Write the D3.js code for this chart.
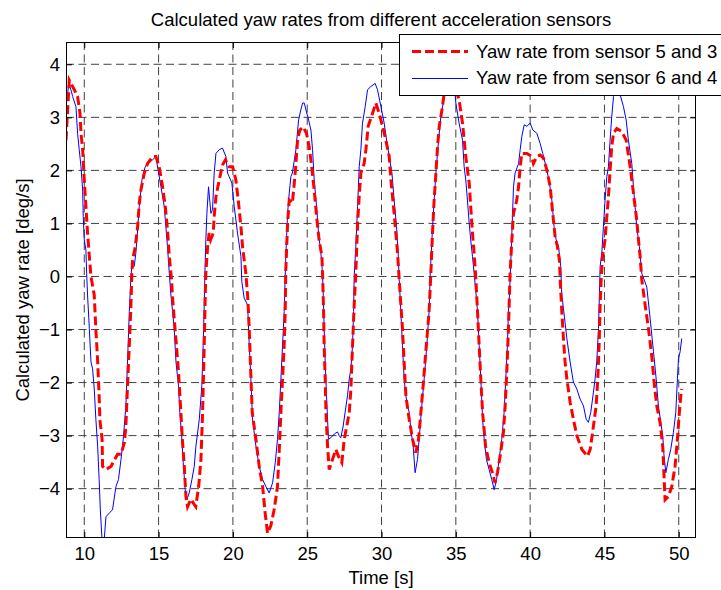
<!DOCTYPE html>
<meta charset="utf-8">
<style>
body {
    margin: 0px;
    background: #fff;
    overflow: hidden;
}
text {
    font-family: "Liberation Sans", Arial, sans-serif;
    fill: #000;
}
.grid line {
    stroke: #404040;
    stroke-width: 1px;
    stroke-dasharray: 8,4.5;
}
</style>
<body>
<script src="https://d3js.org/d3.v7.min.js"></script>
<script>
// tick labels
var xTicks = [10, 15, 20, 25, 30, 35, 40, 45, 50];
var yTicks = [-4, -3, -2, -1, 0, 1, 2, 3, 4];

// yaw rate from sensor 5 and 3 (red, dashed)
var redT = [8.77, 8.99, 9.33, 9.55, 9.71, 9.78, 9.89, 10.0, 10.11, 10.22, 10.34, 10.45, 10.67, 10.78, 10.9, 11.0, 11.05, 11.2, 11.23, 11.46,
    11.8, 12.24, 12.47, 12.7, 12.8, 12.9, 13.03, 13.14, 13.2, 13.25, 13.43, 13.59, 13.7, 13.81, 14.04, 14.26, 14.6, 14.82, 15.04, 15.27,
    15.45, 15.6, 15.72, 15.87, 15.94, 16.05, 16.2, 16.34, 16.5, 16.6, 16.73, 16.84, 16.95, 17.17, 17.5, 17.7, 17.85, 17.96, 18.07, 18.14,
    18.18, 18.3, 18.4, 18.5, 18.68, 18.74, 18.86, 19.08, 19.3, 19.5, 19.75, 19.98, 20.2, 20.36, 20.54, 20.65, 20.76, 20.87, 21.0, 21.1,
    21.2, 21.3, 21.55, 21.77, 22.0, 22.17, 22.33, 22.55, 22.78, 23.0, 23.11, 23.23, 23.34, 23.45, 23.52, 23.56, 23.68, 23.79, 24.0, 24.13,
    24.24, 24.35, 24.5, 24.73, 24.95, 25.13, 25.3, 25.47, 25.63, 25.8, 25.99, 26.05, 26.1, 26.14, 26.21, 26.26, 26.37, 26.48, 26.7, 26.93,
    27.1, 27.33, 27.49, 27.71, 27.83, 27.94, 28.05, 28.16, 28.27, 28.39, 28.5, 28.61, 28.83, 28.95, 29.1, 29.4, 29.62, 29.84, 30.07, 30.29,
    30.52, 30.63, 30.85, 30.96, 31.08, 31.19, 31.41, 31.52, 31.64, 31.86, 32.09, 32.31, 32.49, 32.65, 32.8, 32.98, 33.2, 33.32, 33.43, 33.54,
    33.66, 33.77, 33.88, 34.1, 34.2, 34.45, 34.7, 34.95, 35.22, 35.45, 35.67, 35.9, 36.0, 36.12, 36.23, 36.35, 36.46, 36.57, 36.68, 36.8,
    37.0, 37.24, 37.46, 37.64, 37.8, 38.0, 38.2, 38.32, 38.43, 38.54, 38.65, 38.77, 38.88, 39.1, 39.22, 39.33, 39.44, 39.78, 40.11, 40.22,
    40.45, 40.67, 40.9, 41.12, 41.35, 41.52, 41.68, 41.84, 41.97, 42.03, 42.13, 42.24, 42.35, 42.47, 42.69, 42.91, 43.14, 43.48, 43.86, 44.04,
    44.26, 44.44, 44.55, 44.64, 44.71, 44.78, 44.87, 45.04, 45.16, 45.27, 45.38, 45.49, 45.61, 45.83, 46.17, 46.46, 46.73, 46.95, 47.17, 47.29,
    47.4, 47.51, 47.74, 47.96, 48.18, 48.34, 48.52, 48.74, 48.92, 49.01, 49.08, 49.3, 49.53, 49.75, 49.91, 50.04, 50.16, 50.2];
var redV = [2.57, 3.70, 3.52, 3.39, 3.08, 2.70, 2.39, 1.82, 1.32, 0.82, 0.38, 0.0, -0.35, -1.0, -1.6, -2.25, -2.7, -3.07, -3.58, -3.64,
    -3.58, -3.35, -3.35, -3.13, -2.82, -2.12, -1.3, -0.54, 0.05, 0.31, 0.56, 0.94, 1.38, 1.63, 1.95, 2.13, 2.26, 2.26, 2.07, 1.69,
    1.32, 0.88, 0.38, -0.06, -0.4, -0.79, -1.3, -1.8, -2.56, -3.07, -3.58, -4.15, -4.34, -4.2, -4.34, -3.95, -3.45, -2.56, -1.3, -0.35,
    0.06, 0.56, 0.82, 0.69, 0.82, 1.13, 1.51, 1.82, 2.1, 2.2, 2.07, 2.07, 1.82, 1.44, 0.94, 0.56, 0.31, 0.06, -0.4, -0.98,
    -1.8, -2.56, -3.07, -3.58, -3.96, -4.46, -4.84, -4.7, -4.39, -3.96, -3.32, -2.56, -1.93, -1.3, -0.66, 0.13, 1.0, 1.44, 1.38, 1.76,
    2.13, 2.57, 2.76, 2.82, 2.7, 2.45, 2.07, 1.63, 1.13, 0.69, 0.38, -0.1, -0.66, -1.3, -1.93, -2.56, -3.2, -3.64, -3.45, -3.26,
    -3.39, -3.51, -3.07, -2.75, -2.56, -2.12, -1.3, -0.54, 0.06, 1.0, 1.51, 1.95, 2.13, 2.39, 2.83, 3.08, 3.27, 3.08, 2.83, 2.57,
    2.26, 1.82, 1.19, 0.82, 0.44, -0.06, -0.98, -1.61, -2.25, -2.69, -3.07, -3.32, -3.07, -2.56, -2.06, -1.42, -0.66, 0.06, 0.82, 1.44,
    1.95, 2.45, 2.82, 3.2, 3.42, 3.75, 3.85, 3.6, 3.33, 2.89, 2.26, 1.76, 1.32, 0.82, 0.44, -0.06, -0.66, -1.3, -1.93, -2.56,
    -3.2, -3.51, -3.7, -3.89, -3.7, -3.35, -2.94, -2.44, -1.8, -0.98, 0.06, 0.69, 1.19, 1.44, 1.69, 2.07, 2.32, 2.32, 2.26, 2.13,
    2.26, 2.29, 2.23, 2.01, 1.69, 1.19, 0.75, 0.56, 0.31, -0.1, -0.66, -1.17, -1.61, -1.93, -2.37, -2.69, -3.0, -3.26, -3.39, -3.26,
    -2.82, -2.44, -1.93, -1.3, -0.54, -0.06, 0.38, 0.69, 1.13, 1.51, 2.01, 2.45, 2.7, 2.79, 2.73, 2.57, 2.07, 1.57, 1.07, 0.69,
    0.38, -0.06, -0.54, -0.98, -1.49, -1.99, -2.44, -2.75, -3.2, -3.77, -4.21, -4.15, -3.96, -3.58, -3.07, -2.56, -2.18, -2.12];

// yaw rate from sensor 6 and 4 (blue, solid)
var blueT = [8.77, 8.83, 8.96, 9.1, 9.22, 9.44, 9.55, 9.66, 9.78, 9.89, 9.93, 10.0, 10.11, 10.16, 10.22, 10.34, 10.45, 10.56, 10.67, 10.78,
    10.9, 11.0, 11.08, 11.19, 11.35, 11.46, 11.68, 11.9, 12.13, 12.3, 12.47, 12.62, 12.8, 12.91, 13.03, 13.14, 13.2, 13.36, 13.47, 13.59,
    13.7, 13.88, 14.1, 14.33, 14.6, 14.82, 15.0, 15.16, 15.38, 15.49, 15.6, 15.72, 15.83, 15.94, 16.05, 16.17, 16.34, 16.43, 16.55, 16.66,
    16.79, 16.9, 17.06, 17.24, 17.4, 17.51, 17.74, 17.91, 18.0, 18.07, 18.12, 18.18, 18.25, 18.36, 18.52, 18.63, 18.74, 18.86, 19.08, 19.3,
    19.53, 19.64, 19.75, 19.93, 20.09, 20.31, 20.54, 20.6, 20.76, 20.99, 21.1, 21.21, 21.32, 21.55, 21.77, 22.0, 22.22, 22.44, 22.67, 22.85,
    23.0, 23.12, 23.23, 23.34, 23.45, 23.52, 23.56, 23.68, 23.79, 23.9, 24.0, 24.24, 24.42, 24.57, 24.69, 24.8, 24.95, 25.05, 25.25, 25.36,
    25.47, 25.63, 25.76, 25.92, 26.03, 26.08, 26.14, 26.21, 26.3, 26.43, 26.59, 26.82, 27.04, 27.15, 27.26, 27.42, 27.55, 27.71, 27.83, 27.94,
    28.05, 28.12, 28.16, 28.27, 28.39, 28.5, 28.61, 28.72, 28.9, 29.06, 29.28, 29.57, 29.73, 29.96, 30.18, 30.34, 30.52, 30.7, 30.85, 31.01,
    31.12, 31.19, 31.3, 31.41, 31.52, 31.64, 31.75, 31.86, 31.97, 32.13, 32.26, 32.42, 32.53, 32.71, 32.87, 33.05, 33.2, 33.27, 33.39, 33.54,
    33.66, 33.84, 33.99, 34.15, 34.33, 34.55, 34.65, 34.8, 34.9, 35.0, 35.22, 35.45, 35.56, 35.67, 35.78, 35.9, 36.0, 36.12, 36.23, 36.35,
    36.46, 36.57, 36.68, 36.8, 36.91, 37.06, 37.24, 37.42, 37.58, 37.74, 37.91, 38.09, 38.25, 38.36, 38.47, 38.54, 38.61, 38.7, 38.77, 38.88,
    38.99, 39.22, 39.33, 39.44, 39.6, 39.78, 40.0, 40.18, 40.45, 40.67, 40.85, 41.12, 41.3, 41.46, 41.61, 41.75, 41.91, 42.06, 42.13, 42.24,
    42.47, 42.69, 42.91, 43.14, 43.36, 43.59, 43.77, 43.92, 44.08, 44.26, 44.37, 44.48, 44.6, 44.66, 44.71, 44.82, 44.93, 45.04, 45.16, 45.27,
    45.38, 45.49, 45.61, 45.72, 45.9, 46.05, 46.28, 46.46, 46.61, 46.84, 46.95, 47.06, 47.17, 47.35, 47.51, 47.85, 48.07, 48.3, 48.48, 48.63,
    48.79, 48.92, 49.01, 49.13, 49.3, 49.46, 49.64, 49.8, 49.91, 49.98, 50.09, 50.2];
var blueV = [3.2, 3.33, 3.64, 3.52, 3.39, 3.2, 2.7, 2.39, 2.07, 1.63, 1.13, 0.69, 0.5, 0.06, -0.35, -0.98, -1.61, -1.74, -2.12, -2.69,
    -3.2, -3.83, -4.4, -4.93, -4.93, -4.53, -4.46, -4.4, -3.96, -3.83, -3.45, -3.07, -2.44, -1.61, -0.66, 0.0, 0.19, 0.19, 0.44, 0.88,
    1.32, 1.82, 2.07, 2.13, 2.2, 2.26, 1.95, 1.69, 1.32, 0.94, 0.56, 0.06, -0.35, -0.66, -0.98, -1.61, -2.06, -2.56, -3.0, -3.51,
    -4.02, -4.21, -4.08, -3.83, -3.58, -3.2, -2.69, -2.06, -1.3, -0.54, 0.1, 0.69, 1.19, 1.69, 1.19, 1.26, 1.95, 2.32, 2.39, 2.42,
    2.26, 1.95, 1.88, 1.76, 1.32, 0.82, 0.38, -0.1, -0.41, -0.54, -1.3, -1.93, -2.69, -3.2, -3.58, -3.83, -3.96, -4.08, -3.89, -3.51,
    -3.07, -2.56, -1.93, -1.3, -0.66, 0.0, 0.38, 1.19, 1.57, 1.88, 1.95, 2.39, 2.95, 3.14, 3.27, 3.27, 3.1, 3.0, 2.76, 2.39,
    1.82, 1.32, 0.82, 0.44, 0.06, -0.35, -0.98, -1.61, -2.25, -3.07, -3.04, -2.97, -2.93, -3.0, -3.04, -2.82, -2.56, -2.25, -1.93, -1.74,
    -1.3, -0.66, 0.0, 0.56, 1.32, 2.07, 2.39, 2.89, 3.2, 3.52, 3.58, 3.64, 3.52, 3.2, 2.89, 2.57, 2.26, 1.95, 1.44, 0.94,
    0.44, -0.06, -0.66, -1.3, -1.93, -2.25, -2.44, -2.56, -2.88, -3.2, -3.7, -3.45, -3.07, -2.44, -1.93, -1.3, -0.66, 0.0, 0.69, 1.44,
    1.95, 2.57, 3.01, 3.27, 3.6, 4.2, 4.42, 4.0, 3.6, 3.27, 2.89, 2.57, 2.07, 1.82, 1.44, 1.0, 0.69, 0.38, 0.06, -0.3,
    -0.66, -1.3, -1.93, -2.69, -3.07, -3.45, -3.64, -3.83, -4.02, -3.83, -3.45, -3.07, -2.56, -1.93, -1.3, -0.66, -0.35, 0.3, 0.82, 1.69,
    1.95, 2.13, 2.39, 2.64, 2.86, 2.83, 2.89, 2.76, 2.7, 2.51, 2.32, 2.01, 1.76, 1.44, 0.94, 0.69, 0.56, 0.19, -0.35, -0.6,
    -1.17, -1.61, -1.99, -2.12, -2.31, -2.44, -2.69, -2.75, -2.56, -2.18, -1.93, -1.61, -0.98, -0.35, 0.19, 0.44, 0.94, 1.44, 1.88, 2.07,
    2.57, 3.01, 3.39, 3.52, 3.55, 3.43, 3.2, 2.95, 2.57, 2.13, 1.69, 1.32, 0.94, 0.56, 0.06, -0.2, -0.78, -1.42, -1.93, -2.44,
    -2.75, -3.0, -3.39, -3.7, -3.45, -3.26, -2.94, -2.56, -1.93, -1.55, -1.42, -1.17];

var legendLabels = ["Yaw rate from sensor 5 and 3", "Yaw rate from sensor 6 and 4"];

var width = 721,
    height = 590,
    fontSize = 18.5;

var plotLeft = 66, plotRight = 696, plotTop = 42, plotBottom = 538;

var x = d3.scaleLinear().domain([8.77, 51.16]).range([plotLeft, plotRight]);
var y = d3.scaleLinear().domain([-4.93, 4.42]).range([plotBottom, plotTop]);

var svg = d3.select("body").append("svg")
    .attr("width", width)
    .attr("height", height);

svg.append("defs").append("clipPath")
    .attr("id", "clip")
  .append("rect")
    .attr("x", plotLeft)
    .attr("y", plotTop)
    .attr("width", plotRight - plotLeft)
    .attr("height", plotBottom - plotTop);

// dashed grid
var grid = svg.append("g").attr("class", "grid");
grid.selectAll(".gx")
    .data(xTicks)
    .enter().append("line")
    .attr("x1", d => x(d)).attr("x2", d => x(d))
    .attr("y1", plotTop).attr("y2", plotBottom);
grid.selectAll(".gy")
    .data(yTicks)
    .enter().append("line")
    .attr("x1", plotLeft).attr("x2", plotRight)
    .attr("y1", d => y(d)).attr("y2", d => y(d));

// series
var line = d3.line()
    .x(d => x(d[0]))
    .y(d => y(d[1]));

var redData = redT.map((t, i) => [t, redV[i]]);
var blueData = blueT.map((t, i) => [t, blueV[i]]);

var plot = svg.append("g").attr("clip-path", "url(#clip)");

plot.append("path")
    .datum(blueData)
    .attr("d", line)
    .attr("fill", "none")
    .attr("stroke", "#0000ff")
    .attr("stroke-width", 1);

plot.append("path")
    .datum(redData)
    .attr("d", line)
    .attr("fill", "none")
    .attr("stroke", "#ff0000")
    .attr("stroke-width", 3)
    .attr("stroke-dasharray", "9,4");

// axes, ticks pointing inward
function styleAxis(g) {
    g.attr("font-size", fontSize)
     .attr("font-family", '"Liberation Sans", Arial, sans-serif');
    g.select(".domain").remove();
    g.selectAll(".tick line").attr("stroke", "#000");
}

svg.append("g")
    .attr("transform", "translate(0," + plotBottom + ")")
    .call(d3.axisBottom(x).tickValues(xTicks).tickSize(-6).tickPadding(9))
    .call(styleAxis);

svg.append("g")
    .attr("transform", "translate(0," + plotTop + ")")
    .call(d3.axisTop(x).tickValues(xTicks).tickSize(-6).tickFormat(""))
    .call(styleAxis);

svg.append("g")
    .attr("transform", "translate(" + plotLeft + ",0)")
    .call(d3.axisLeft(y).tickValues(yTicks).tickSize(-6).tickPadding(6))
    .call(styleAxis);

svg.append("g")
    .attr("transform", "translate(" + plotRight + ",0)")
    .call(d3.axisRight(y).tickValues(yTicks).tickSize(-6).tickFormat(""))
    .call(styleAxis);

svg.append("rect")
    .attr("x", plotLeft + 0.5)
    .attr("y", plotTop + 0.5)
    .attr("width", plotRight - plotLeft - 1)
    .attr("height", plotBottom - plotTop - 1)
    .attr("fill", "none")
    .attr("stroke", "#000")
    .attr("stroke-width", 1);

// title and axis labels
svg.append("text")
    .attr("x", (plotLeft + plotRight) / 2)
    .attr("y", 26)
    .attr("text-anchor", "middle")
    .attr("font-size", fontSize)
    .text("Calculated yaw rates from different acceleration sensors");

svg.append("text")
    .attr("x", (plotLeft + plotRight) / 2)
    .attr("y", 584)
    .attr("text-anchor", "middle")
    .attr("font-size", fontSize)
    .text("Time [s]");

svg.append("text")
    .attr("transform", "translate(29," + (plotTop + plotBottom) / 2 + ") rotate(-90)")
    .attr("text-anchor", "middle")
    .attr("font-size", fontSize)
    .text("Calculated yaw rate [deg/s]");

// legend
var legend = svg.append("g");
legend.append("rect")
    .attr("x", 399.5)
    .attr("y", 34.5)
    .attr("width", 340)
    .attr("height", 61)
    .attr("fill", "#fff")
    .attr("stroke", "#000");

legend.append("line")
    .attr("x1", 412).attr("x2", 468)
    .attr("y1", 51.5).attr("y2", 51.5)
    .attr("stroke", "#ff0000")
    .attr("stroke-width", 3)
    .attr("stroke-dasharray", "9,4");

legend.append("line")
    .attr("x1", 412).attr("x2", 468)
    .attr("y1", 78.5).attr("y2", 78.5)
    .attr("stroke", "#0000ff")
    .attr("stroke-width", 1);

legend.selectAll(".lt")
    .data(legendLabels)
    .enter().append("text")
    .attr("x", 476)
    .attr("y", (d, i) => 57.5 + i * 26.5)
    .attr("font-size", fontSize)
    .text(d => d);
</script>
</body>
</html>
